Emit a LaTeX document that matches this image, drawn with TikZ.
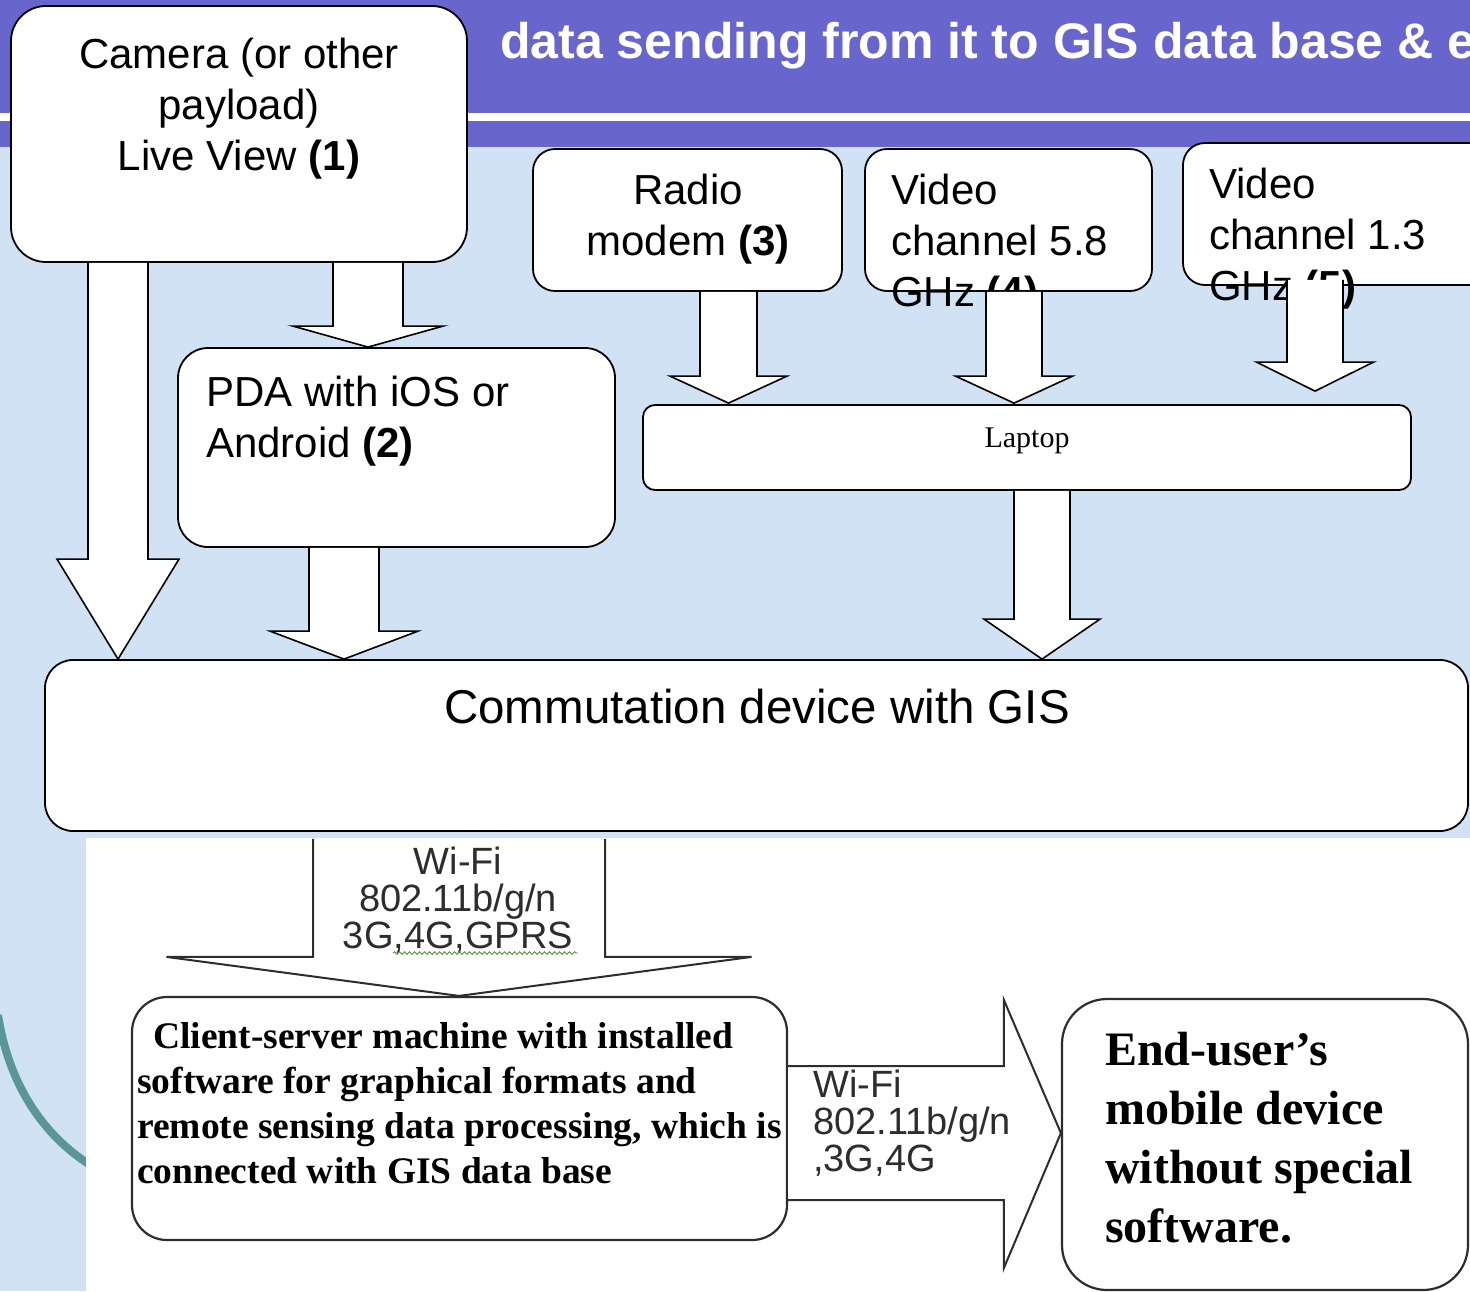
\documentclass[tikz,border=0pt]{standalone}
\usepackage{fontspec}
\setmainfont{Liberation Sans}
\newfontfamily\serifx{Liberation Serif}
\usetikzlibrary{calc,decorations.pathmorphing}
\definecolor{bgblue}{RGB}{208,226,244}
\definecolor{banner}{RGB}{104,102,204}
\definecolor{tealarc}{RGB}{90,150,150}
\definecolor{scan}{RGB}{45,45,45}
\definecolor{spell}{RGB}{80,150,60}
\tikzset{
  box/.style={draw=black, fill=white, line width=1.8pt, inner sep=0pt},
  sbox/.style={draw=scan, fill=white, line width=2.2pt, inner sep=0pt},
  barrow/.style={draw=black, fill=white, line width=1.6pt, line join=miter},
  sarrow/.style={draw=scan, fill=white, line width=2pt, line join=miter},
  lbl/.style={font=\fontsize{42}{51}\selectfont, inner sep=0pt},
  slbl/.style={font=\fontsize{38}{37}\selectfont, inner sep=0pt, text=scan},
}
% #1 style, #2 source node, #3 target node, #4 centre x, #5 shaft half width,
% #6 head half width, #7 head length, #8 start below source (pt), #9 gap above target (pt)
\newcommand\blockdown[9]{%
  \path[#1] let \p1=(#2.south), \p2=(#3.north) in
    ({(#4-#5)*1pt},{\y1-(#8)*1pt}) -- ({(#4-#5)*1pt},{\y2+(#7+#9)*1pt})
    -- ({(#4-#6)*1pt},{\y2+(#7+#9)*1pt}) -- ({#4*1pt},{\y2+(#9)*1pt})
    -- ({(#4+#6)*1pt},{\y2+(#7+#9)*1pt}) -- ({(#4+#5)*1pt},{\y2+(#7+#9)*1pt})
    -- ({(#4+#5)*1pt},{\y1-(#8)*1pt});
}
\begin{document}
\begin{tikzpicture}[x=1pt,y=-1pt]
\useasboundingbox (0,0) rectangle (1470,1291);
\clip (0,0) rectangle (1470,1291);
% background
\fill[bgblue] (0,0) rectangle (1470,1291);
\fill[banner] (0,0) rectangle (1470,147);
\fill[white] (0,113) rectangle (1470,121);
\node[anchor=base west, text=white, inner sep=0pt,
      font=\fontsize{50}{60}\selectfont\bfseries] (title) at (500,58)
      {data sending from it to GIS data base \& e};
% teal arc and scanned white area
\draw[tealarc, line width=8pt] (-2,1015) .. controls (8,1080) and (40,1135) .. (95,1168);
\fill[white] (86,838) rectangle (1470,1291);

% upper boxes
\node[box, minimum width=456pt, minimum height=256pt, rounded corners=35pt] (cam) at (239,134) {};
\node[lbl, align=center] (camt) at (239,108.5) {Camera (or other\\payload)\\Live View \textbf{(1)}};

\node[box, minimum width=437pt, minimum height=199pt, rounded corners=30pt] (pda) at (396.5,447.5) {};
\node[lbl, align=left, anchor=west] (pdat) at (206,421.5) {PDA with iOS or\\Android \textbf{(2)}};

\node[box, minimum width=309pt, minimum height=142pt, rounded corners=22pt] (radio) at (687.5,220) {};
\node[lbl, align=center] (radiot) at (688,219) {Radio\\modem \textbf{(3)}};

\node[box, minimum width=287pt, minimum height=142pt, rounded corners=22pt] (vid58) at (1008.5,220) {};
\node[lbl, align=left, anchor=west] (vid58t) at (891,245) {Video\\channel 5.8\\GHz \textbf{(4)}};

\node[box, minimum width=317pt, minimum height=142pt, rounded corners=22pt] (vid13) at (1341.5,214) {};
\node[lbl, align=left, anchor=west] (vid13t) at (1209,239) {Video\\channel 1.3\\GHz \textbf{(5)}};

\node[box, minimum width=768pt, minimum height=85pt, rounded corners=12pt] (laptop) at (1027,447.5) {};
\node[inner sep=0pt, font=\serifx\fontsize{30}{36}\selectfont] (laptopt) at (1027,441) {Laptop};

\node[box, minimum width=1423pt, minimum height=171pt, rounded corners=28pt] (comm) at (756.5,745.5) {};
\node[inner sep=0pt, font=\fontsize{47.5}{56}\selectfont] (commt) at (757,707) {Commutation device with GIS};

% upper block arrows
\blockdown{barrow}{cam}{comm}{118}{30}{61}{100}{0}{0}
\blockdown{barrow}{cam}{pda}{368}{35}{75}{21}{0}{0}
\blockdown{barrow}{pda}{comm}{344}{35}{74}{28}{0}{0}
\blockdown{barrow}{radio}{laptop}{728.5}{28.5}{58.5}{27}{0}{1}
\blockdown{barrow}{vid58}{laptop}{1014}{28}{58.5}{27}{0}{1}
\blockdown{barrow}{vid13}{laptop}{1315}{28}{58.5}{29}{-6}{13}
\blockdown{barrow}{laptop}{comm}{1042}{28}{58}{40}{0}{0}

% lower (scanned) part
\node[sbox, minimum width=655pt, minimum height=243pt, rounded corners=35pt] (client) at (459.5,1118.5) {};
\node[inner sep=0pt, align=left, anchor=west, font=\serifx\bfseries\fontsize{37.5}{45}\selectfont] (clientt) at (137,1103.5)
  {\hspace*{16pt}Client-server machine with installed\\software for graphical formats and\\remote sensing data processing, which is\\connected with GIS data base};

\node[sbox, minimum width=406pt, minimum height=291pt, rounded corners=45pt] (enduser) at (1265,1144.5) {};
\node[inner sep=0pt, align=left, anchor=west, font=\serifx\bfseries\fontsize{48}{59}\selectfont] (endusert) at (1105,1138)
  {End-user’s\\mobile device\\without special\\software.};

\blockdown{sarrow}{comm}{client}{459}{146}{292.5}{39}{7}{0}
\node[slbl, align=center] (wifi1) at (458,900) {Wi-Fi\\802.11b/g/n\\3G,4G,GPRS};
\draw[spell, line width=0.9pt, decorate, decoration={snake, amplitude=1.3pt, segment length=5pt}]
  (393,953) -- (578,953);

\path[sarrow] let \p1=(client.east), \p2=(enduser.west) in
  (\x1,-1066pt) -- ({\x2-57pt},-1066pt) -- ({\x2-57pt},-1000pt) -- (\x2,-1133pt)
  -- ({\x2-57pt},-1268pt) -- ({\x2-57pt},-1200pt) -- (\x1,-1200pt);
\node[slbl, align=left, anchor=west] (wifi2) at (813,1123) {Wi-Fi\\802.11b/g/n\\,3G,4G};
\end{tikzpicture}
\end{document}
